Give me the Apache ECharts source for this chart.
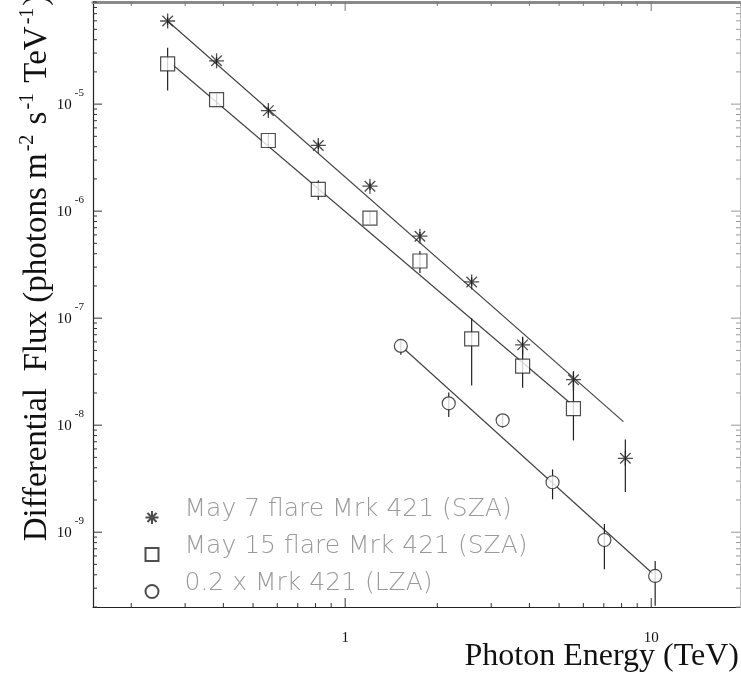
<!DOCTYPE html>
<html>
<head>
<meta charset="utf-8">
<script src="https://cdn.jsdelivr.net/npm/echarts@6/dist/echarts.min.js"></script>
<style>html,body{margin:0;padding:0;background:#fff}#c{width:741px;height:680px}</style>
</head>
<body>
<div id="c"></div>
<script>
// ---- axis ranges ----
const X_MIN = 0.15, X_MAX = 19.5;
const Y_MIN = 2e-10, Y_MAX = 9e-5;

// ---- series names ----
const NAME7 = 'May 7 flare Mrk 421 (SZA)';
const NAME15 = 'May 15 flare Mrk 421 (SZA)';
const NAMELZA = '0.2 x Mrk 421 (LZA)';

// ---- May 7 flare (stars) ----
const energy7 = [0.263, 0.380, 0.561, 0.817, 1.205, 1.755, 2.59, 3.80, 5.57, 8.23];
const flux7   = [5.98e-5, 2.54e-5, 8.7e-6, 4.11e-6, 1.71e-6, 5.83e-7, 2.18e-7, 5.63e-8, 2.66e-8, 4.9e-9];
const err7Hi  = [6.5e-5, 2.75e-5, 9.5e-6, 4.5e-6, 1.85e-6, 6.4e-7, 2.4e-7, 6.7e-8, 3.2e-8, 7.36e-9];
const err7Lo  = [5.5e-5, 2.35e-5, 8.0e-6, 3.8e-6, 1.58e-6, 5.3e-7, 2.0e-7, 4.55e-8, 2.1e-8, 2.37e-9];

// ---- May 15 flare (squares) ----
const energy15 = [0.263, 0.380, 0.561, 0.817, 1.205, 1.755, 2.59, 3.80, 5.57];
const flux15   = [2.38e-5, 1.10e-5, 4.57e-6, 1.60e-6, 8.6e-7, 3.42e-7, 6.4e-8, 3.57e-8, 1.43e-8];
const err15Hi  = [3.36e-5, 1.25e-5, 5.3e-6, 1.94e-6, 9.97e-7, 4.24e-7, 1.0e-7, 4.85e-8, 2.67e-8];
const err15Lo  = [1.34e-5, 9.5e-6, 3.9e-6, 1.27e-6, 7.6e-7, 2.64e-7, 2.35e-8, 2.24e-8, 7.2e-9];

// ---- 0.2 x Mrk 421 LZA (circles) ----
const energyL = [1.52, 2.18, 3.27, 4.76, 7.03, 10.3];
const fluxL   = [5.5e-8, 1.6e-8, 1.11e-8, 2.93e-9, 8.45e-10, 3.9e-10];
const errLHi  = [6.3e-8, 2.02e-8, 1.26e-8, 3.86e-9, 1.19e-9, 5.37e-10];
const errLLo  = [4.55e-8, 1.19e-8, 9.5e-9, 2.03e-9, 4.5e-10, 2.05e-10];

// ---- power-law fit lines (endpoints) ----
const fit7E = [0.263, 8.11],  fit7F = [5.98e-5, 1.08e-8];
const fit15E = [0.273, 5.41], fit15F = [2.33e-5, 1.63e-8];
const fitLE = [1.57, 10.15],  fitLF = [5.07e-8, 4.07e-10];

// ---- tick label values ----
const xTickLabels = [1, 10];
const yTickLabels = [1e-9, 1e-8, 1e-7, 1e-6, 1e-5];

function zip(a, b) { return a.map((v, i) => [v, b[i]]); }
function zip3(a, b, c) { return a.map((v, i) => [v, b[i], c[i]]); }

// tick positions on log axes (decades and 2..9 subdivisions)
const xTicks = [], yTicks = [];
for (let e = -1; e <= 1; e++) for (let m = 1; m <= 9; m++) {
  const v = m * Math.pow(10, e);
  if (v >= X_MIN && v <= X_MAX) xTicks.push([v, Y_MIN, m === 1 ? 9 : 4]);
}
for (let e = -10; e <= -5; e++) for (let m = 1; m <= 9; m++) {
  const v = m * Math.pow(10, e);
  if (v >= Y_MIN && v <= Y_MAX) yTicks.push([X_MIN, v, m === 1 ? 9 : 4]);
}

const INK = '#222';
const STAR = 'path://M0,-10L0,10M-10,0L10,0M-7,-7L7,7M-7,7L7,-7';

function errRender(params, api) {
  const x = api.value(0), hi = api.value(1), lo = api.value(2);
  const p1 = api.coord([x, hi]), p2 = api.coord([x, lo]);
  return { type: 'line', shape: { x1: p1[0], y1: p1[1], x2: p2[0], y2: p2[1] },
           style: { stroke: INK, lineWidth: 1.2 } };
}
function xTickRender(params, api) {
  const v = api.value(0), len = api.value(2);
  const b = api.coord([v, Y_MIN]), t = api.coord([v, Y_MAX]);
  return { type: 'group', children: [
    { type: 'line', shape: { x1: b[0], y1: b[1], x2: b[0], y2: b[1] - len }, style: { stroke: '#333', lineWidth: 1 } },
    { type: 'line', shape: { x1: t[0], y1: t[1], x2: t[0], y2: t[1] + len }, style: { stroke: '#777', lineWidth: 1 } }
  ]};
}
function yTickRender(params, api) {
  const v = api.value(1), len = api.value(2);
  const l = api.coord([X_MIN, v]), r = api.coord([X_MAX, v]);
  return { type: 'group', children: [
    { type: 'line', shape: { x1: l[0], y1: l[1], x2: l[0] + len, y2: l[1] }, style: { stroke: '#333', lineWidth: 1 } },
    { type: 'line', shape: { x1: r[0], y1: r[1], x2: r[0] - len, y2: r[1] }, style: { stroke: '#999', lineWidth: 1 } }
  ]};
}

function isPow10(v) { const l = Math.log10(v); return Math.abs(l - Math.round(l)) < 1e-6; }

const chart = echarts.init(document.getElementById('c'));
chart.setOption({
  backgroundColor: '#fff',
  animation: false,
  grid: { left: 93, right: 1, top: 2, bottom: 73 },
  xAxis: [{
    type: 'log', min: X_MIN, max: X_MAX, position: 'bottom',
    axisLine: { lineStyle: { color: '#222', width: 1.2 } },
    axisTick: { show: false }, splitLine: { show: false },
    axisLabel: {
      margin: 24, color: '#111', fontFamily: 'Liberation Serif', fontSize: 15,
      showMinLabel: false, showMaxLabel: false,
      formatter: v => (isPow10(v) && xTickLabels.some(t => Math.abs(t - v) / t < 1e-6)) ? String(Math.round(v)) : ''
    }
  }, {
    type: 'log', min: X_MIN, max: X_MAX, position: 'top',
    axisLine: { lineStyle: { color: '#8a8a8a', width: 3 } },
    axisTick: { show: false }, axisLabel: { show: false }, splitLine: { show: false }
  }],
  yAxis: [{
    type: 'log', min: Y_MIN, max: Y_MAX, position: 'left',
    axisLine: { lineStyle: { color: '#222', width: 1.2 } },
    axisTick: { show: false }, splitLine: { show: false },
    axisLabel: {
      margin: 9, showMinLabel: false, showMaxLabel: false, padding: [0, 0, 8, 0],
      formatter: v => (isPow10(v) && yTickLabels.some(t => Math.abs(t - v) / t < 1e-6)) ? '{b|10}{s|' + Math.round(Math.log10(v)) + '}' : '',
      rich: {
        b: { fontFamily: 'Liberation Serif', fontSize: 15, color: '#111', verticalAlign: 'bottom' },
        s: { fontFamily: 'Liberation Serif', fontSize: 11, color: '#111', padding: [0, 0, 14, 3], verticalAlign: 'bottom' }
      }
    }
  }, {
    type: 'log', min: Y_MIN, max: Y_MAX, position: 'right',
    axisLine: { lineStyle: { color: '#bbb', width: 1 } },
    axisTick: { show: false }, axisLabel: { show: false }, splitLine: { show: false }
  }],
  legend: {
    data: [NAME7, NAME15, NAMELZA],
    orient: 'vertical', left: 138, top: 492,
    itemWidth: 13, itemHeight: 13, itemGap: 3,
    selectedMode: false,
    formatter: name => '{t|' + name + '}\n{g| }',
    textStyle: {
      padding: [0, 0, 0, 21],
      rich: {
        t: { color: '#9a9a9a', fontSize: 25, lineHeight: 25, fontFamily: 'DejaVu Sans', fontWeight: 200 },
        g: { fontSize: 2, lineHeight: 16 }
      }
    }
  },
  graphic: [
    { type: 'text', x: 37, y: 268, rotation: Math.PI / 2,
      style: { text: 'Differential  Flux (photons m{s|-2} s{s|-1} TeV{s|-1})',
               font: '33px "Liberation Serif"', fill: '#111', align: 'center', verticalAlign: 'middle',
               rich: { s: { font: '20px "Liberation Serif"', fill: '#111', padding: [0, 2, 18, 2], verticalAlign: 'bottom' } } } },
    { type: 'text', x: 739, y: 657,
      style: { text: 'Photon Energy (TeV)', font: '32px "Liberation Serif"', fill: '#111', align: 'right', verticalAlign: 'middle' } }
  ],
  series: [
    { type: 'custom', name: 'xticks', renderItem: xTickRender, data: xTicks, encode: { x: 0, y: 1 }, silent: true, clip: false, z: 1 },
    { type: 'custom', name: 'yticks', renderItem: yTickRender, data: yTicks, encode: { x: 0, y: 1 }, silent: true, clip: false, z: 1 },
    { type: 'line', name: 'fit7', data: zip(fit7E, fit7F), symbol: 'none', lineStyle: { color: '#444', width: 1.2 }, z: 2 },
    { type: 'line', name: 'fit15', data: zip(fit15E, fit15F), symbol: 'none', lineStyle: { color: '#444', width: 1.2 }, z: 2 },
    { type: 'line', name: 'fitL', data: zip(fitLE, fitLF), symbol: 'none', lineStyle: { color: '#444', width: 1.2 }, z: 2 },
    { type: 'custom', name: 'err7', renderItem: errRender, data: zip3(energy7, err7Hi, err7Lo), encode: { x: 0, y: [1, 2] }, z: 3 },
    { type: 'custom', name: 'err15', renderItem: errRender, data: zip3(energy15, err15Hi, err15Lo), encode: { x: 0, y: [1, 2] }, z: 3 },
    { type: 'custom', name: 'errL', renderItem: errRender, data: zip3(energyL, errLHi, errLLo), encode: { x: 0, y: [1, 2] }, z: 3, clip: false },
    { type: 'scatter', name: NAME7, data: zip(energy7, flux7), symbol: STAR, symbolSize: 15,
      itemStyle: { color: 'none', borderColor: INK, borderWidth: 1.3 }, z: 5 },
    { type: 'scatter', name: NAME15, data: zip(energy15, flux15), symbol: 'rect', symbolSize: 14,
      itemStyle: { color: '#fff', borderColor: INK, borderWidth: 1.2 }, z: 5 },
    { type: 'scatter', name: NAMELZA, data: zip(energyL, fluxL), symbol: 'circle', symbolSize: 13,
      itemStyle: { color: '#fff', borderColor: INK, borderWidth: 1.2 }, z: 5 }
  ]
});
</script>
</body>
</html>
